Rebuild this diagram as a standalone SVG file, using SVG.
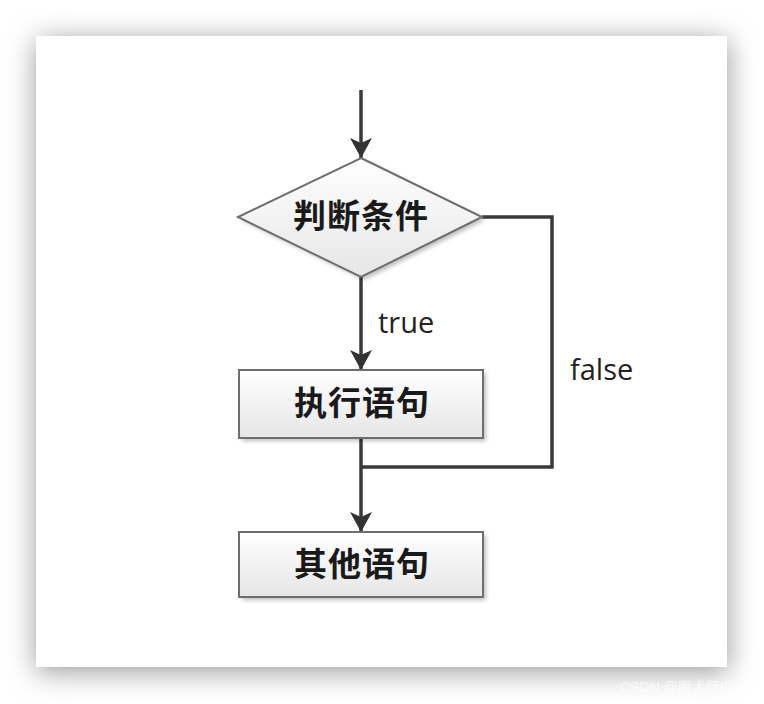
<svg xmlns="http://www.w3.org/2000/svg" width="764" height="704" viewBox="0 0 764 704">
<defs>
<filter id="cardShadow" x="-20%" y="-20%" width="140%" height="140%">
<feGaussianBlur stdDeviation="14"/>
</filter>
<filter id="nodeShadow" x="-20%" y="-20%" width="140%" height="140%">
<feGaussianBlur stdDeviation="2"/>
</filter>
<linearGradient id="nodeFill" x1="0" y1="0" x2="0" y2="1">
<stop offset="0" stop-color="#ffffff"/>
<stop offset="1" stop-color="#e6e6e6"/>
</linearGradient>
<marker id="arrow" viewBox="0 0 20 22" markerWidth="20" markerHeight="22" refX="20" refY="11" orient="auto" markerUnits="userSpaceOnUse">
<path d="M0,0 L20,11 L0,22 L5,11 Z" fill="#333333"/>
</marker>
</defs>
<style>
.node{fill:url(#nodeFill);stroke:#6e6e6e;stroke-width:2}
.shadow{fill:#000;opacity:0.25;filter:url(#nodeShadow)}
.label{font-family:"Liberation Serif","Noto Sans CJK SC",serif;font-weight:bold;font-size:33px;letter-spacing:1px;fill:#1a1a1a;text-anchor:middle;dominant-baseline:central}
.edge{fill:none;stroke:#3a3a3a;stroke-width:3.5}
.elabel{font-family:"Open Sans","Liberation Sans",sans-serif;font-size:29px;fill:#222}
</style>
<rect width="764" height="704" fill="#ffffff"/>
<rect x="36" y="40" width="692" height="632" fill="#9a9a9a" filter="url(#cardShadow)"/>
<rect x="36" y="36" width="691" height="631" fill="#ffffff"/>
<g id="connectors">
<line class="edge" x1="361" y1="90" x2="361" y2="158" marker-end="url(#arrow)"/>
<line class="edge" x1="361" y1="277" x2="361" y2="370" marker-end="url(#arrow)"/>
<line class="edge" x1="361" y1="439" x2="361" y2="532" marker-end="url(#arrow)"/>
<polyline class="edge" points="482,217 552,217 552,467 361,467"/>
<text class="elabel" x="378" y="333">true</text>
<text class="elabel" x="570" y="380">false</text>
</g>
<g id="cond">
<polygon class="shadow" points="364,161 485,220 364,280 241,220"/>
<polygon class="node" points="361,158 482,217 361,277 238,217"/>
<text class="label" x="361" y="217">判断条件</text>
</g>
<g id="exec">
<rect class="shadow" x="242" y="373" width="244" height="68"/>
<rect class="node" x="239" y="370" width="244" height="68"/>
<text class="label" x="362" y="404">执行语句</text>
</g>
<g id="other">
<rect class="shadow" x="242" y="535" width="244" height="65"/>
<rect class="node" x="239" y="532" width="244" height="65"/>
<text class="label" x="362" y="565">其他语句</text>
</g>
<text x="620" y="692" font-family="Liberation Sans,Noto Sans CJK SC,sans-serif" font-size="14" fill="#ffffff" fill-opacity="0.7">CSDN @魔术师ID</text>
</svg>
